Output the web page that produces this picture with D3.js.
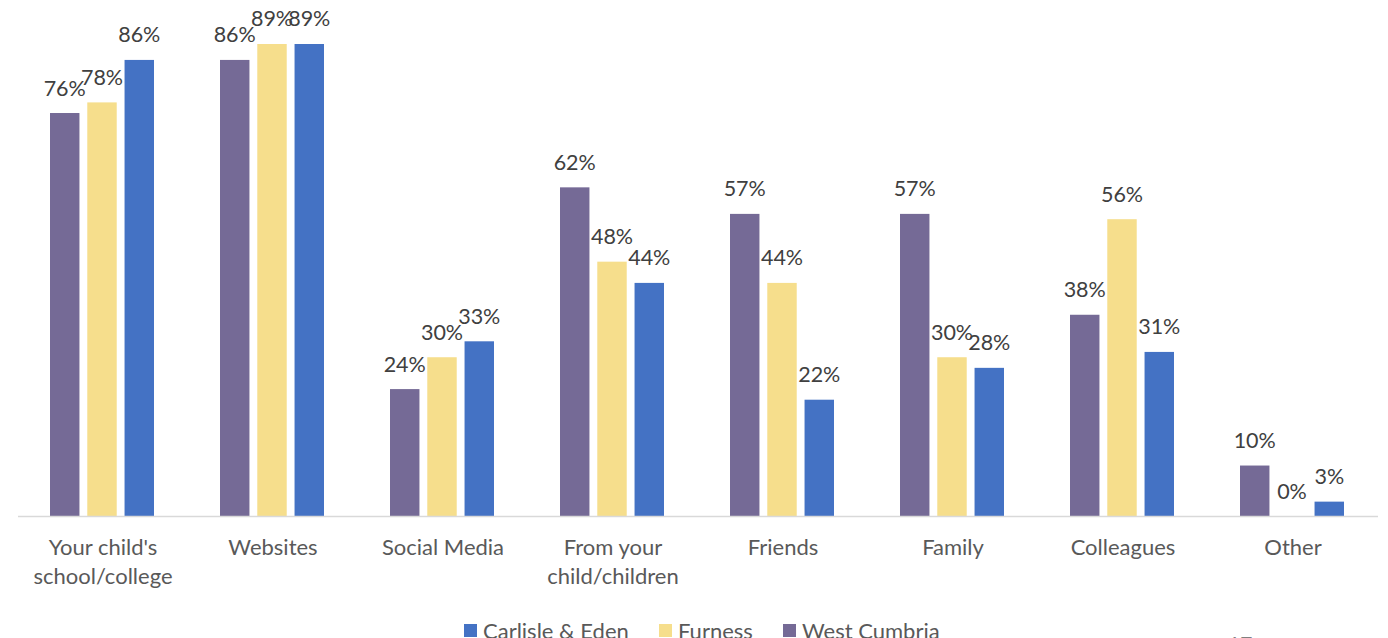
<!DOCTYPE html>
<html><head><meta charset="utf-8">
<script src="https://cdn.jsdelivr.net/npm/d3@7"></script>
<style>html,body{margin:0;padding:0;background:#fff;overflow:hidden}</style>
</head><body><svg id="c" width="1388" height="638"></svg>
<script>
const categories = [["Your child's","school/college"],["Websites"],["Social Media"],["From your","child/children"],["Friends"],["Family"],["Colleagues"],["Other"]];
const seriesNames = ["West Cumbria","Furness","Carlisle & Eden"];
const westCumbria = [76,86,24,62,57,57,38,9.6];
const furness = [78,89,30,48,44,30,56,0];
const carlisleEden = [86,89,33,44,22,28,31,2.8];
const legendOrder = ["Carlisle & Eden","Furness","West Cumbria"];
const colors = {"West Cumbria":"#756A96","Furness":"#F6DE8C","Carlisle & Eden":"#4472C4"};
const series = {"West Cumbria":westCumbria,"Furness":furness,"Carlisle & Eden":carlisleEden};

const svg = d3.select("#c");
const font = "Lato, 'Open Sans', sans-serif";
const x0 = d3.scaleBand().domain(d3.range(categories.length)).range([18,1378]).paddingInner(0).paddingOuter(0);
const x1 = d3.scaleBand().domain(seriesNames).range([32,136]).paddingInner(0.21).paddingOuter(0);
const y = d3.scaleLinear().domain([0,100]).range([516.5,-14.4]);

const g = svg.append("g");
categories.forEach((c,i)=>{
  const gg = g.append("g").attr("transform",`translate(${x0(i)},0)`);
  seriesNames.forEach(s=>{
    const v = series[s][i];
    gg.append("rect").attr("x",x1(s)).attr("width",x1.bandwidth())
      .attr("y",y(v)).attr("height",y(0)-y(v)).attr("fill",colors[s]);
    gg.append("text").attr("x",x1(s)+x1.bandwidth()/2).attr("y",y(v)-17.5)
      .attr("text-anchor","middle").attr("font-family",font).attr("font-size",21.5)
      .attr("fill","#404040").text(d3.format(".0f")(v)+"%");
  });
});

g.append("line").attr("x1",18).attr("x2",1378).attr("y1",516.5).attr("y2",516.5)
  .attr("stroke","#D9D9D9").attr("stroke-width",1.5);

const xa = svg.append("g");
categories.forEach((c,i)=>{
  const t = xa.append("text").attr("x",x0(i)+x0.bandwidth()/2).attr("y",555)
    .attr("text-anchor","middle").attr("font-family",font).attr("font-size",22).attr("fill","#595959");
  c.forEach((line,j)=>t.append("tspan").attr("x",x0(i)+x0.bandwidth()/2).attr("dy",j?29:0).text(line));
});

const legX = {"Carlisle & Eden":464,"Furness":659,"West Cumbria":783};
legendOrder.forEach(s=>{
  svg.append("rect").attr("x",legX[s]).attr("y",624).attr("width",13).attr("height",13).attr("fill",colors[s]);
  svg.append("text").attr("x",legX[s]+19).attr("y",639).attr("font-family",font).attr("font-size",22)
    .attr("fill","#595959").text(s);
});
svg.append("text").attr("x",1228).attr("y",652).attr("font-family",font).attr("font-size",21).attr("fill","#808080").text("17");
</script></body></html>
